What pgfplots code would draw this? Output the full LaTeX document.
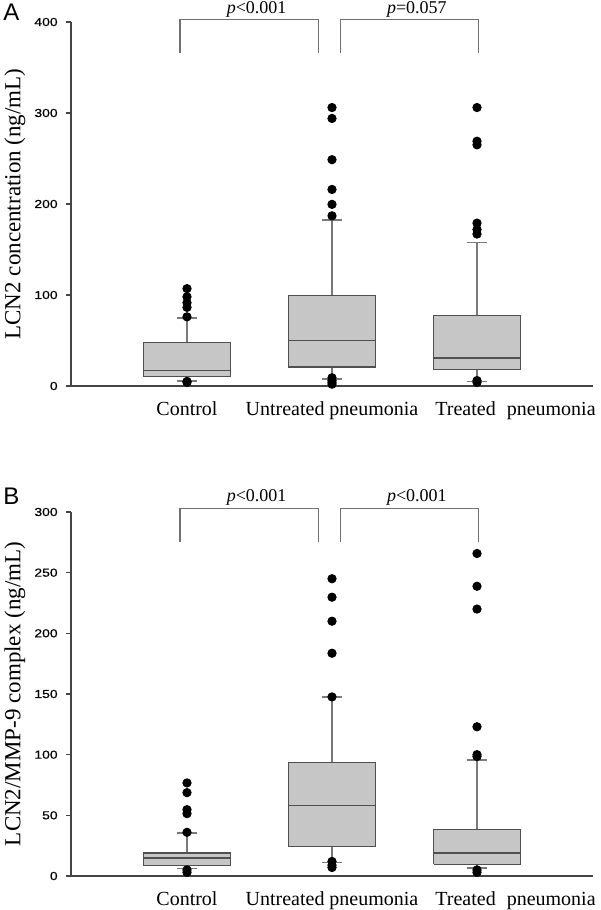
\documentclass[border=0pt]{standalone}
\usepackage{fontspec}
\setmainfont{Liberation Serif}
\setsansfont{Liberation Sans}
\newfontfamily\tickfont[FakeStretch=1.2, FakeBold=0.5]{Liberation Sans}
\usepackage{pgfplots}
\pgfplotsset{compat=1.18}
\definecolor{boxfill}{HTML}{C6C6C6}
\definecolor{boxedge}{HTML}{505050}
\definecolor{whisk}{HTML}{7A7A7A}
\definecolor{axcol}{HTML}{454545}
\definecolor{brk}{HTML}{707070}
\pgfplotsset{
  panel/.style={
    scale only axis, width=261.3pt, height=182pt,
    xmin=0.198, xmax=3.802, ymin=0,
    clip=false,
    axis x line=bottom, axis y line=left,
    axis line style={-, draw=axcol, line width=0.8pt},
    xtick={1,2,3},
    xticklabels={Control, Untreated pneumonia, \hspace*{38.5pt}Treated\hspace{0.55em}pneumonia},
    xtick style={draw=none},
    ytick style={draw=axcol, line width=0.8pt},
    tick align=outside, major tick length=2.5pt,
    /pgf/number format/assume math mode=true,
    yticklabel style={font=\tickfont\fontsize{5.8}{7}\selectfont, xshift=-0.5pt},
    xticklabel style={font=\fontsize{10}{12}\selectfont, yshift=-2pt},
    every axis y label/.style={at={(axis description cs:-0.107,0.5)}, rotate=90, anchor=center, font=\fontsize{11.5}{13}\selectfont},
  },
  bxs/.style={draw=boxedge, fill=boxfill, line width=0.7pt, mark=none},
  wks/.style={draw=whisk, line width=0.7pt, mark=none},
  mds/.style={draw=boxedge, line width=0.7pt, mark=none},
  outl/.style={only marks, mark=*, mark size=2.1pt, mark options={draw=black, fill=black}},
}
\begin{document}
\begin{tikzpicture}
\path[use as bounding box] (0,0) rectangle (300pt,455pt);
% ================= Panel A
\begin{axis}[panel, at={(35.35pt,262pt)}, anchor=south west,
  ymax=400, ytick={0,100,200,300,400},
  ylabel={LCN2 concentration (ng/mL)}]
% Control: lw 5.5, q1 10.6, med 16.8, q3 48, uw 74.7
\addplot[wks] coordinates {(1,48) (1,74.7)};
\addplot[wks] coordinates {(0.93,74.7) (1.07,74.7)};
\addplot[wks] coordinates {(1,10.6) (1,5.5)};
\addplot[wks] coordinates {(0.93,5.5) (1.07,5.5)};
\addplot[bxs] coordinates {(0.7,10.6) (1.3,10.6) (1.3,48) (0.7,48) (0.7,10.6)};
\addplot[mds] coordinates {(0.7,16.8) (1.3,16.8)};
\addplot[outl] coordinates {(1,107) (1,98) (1,91.5) (1,86.4) (1,76) (1,5) (1,4)};
% Untreated: lw 7.7, q1 20.9, med 50.2, q3 99.6, uw 182.4
\addplot[wks] coordinates {(2,99.6) (2,182.4)};
\addplot[wks] coordinates {(1.93,182.4) (2.07,182.4)};
\addplot[wks] coordinates {(2,20.9) (2,7.7)};
\addplot[wks] coordinates {(1.93,7.7) (2.07,7.7)};
\addplot[bxs] coordinates {(1.7,20.9) (2.3,20.9) (2.3,99.6) (1.7,99.6) (1.7,20.9)};
\addplot[mds] coordinates {(1.7,50.2) (2.3,50.2)};
\addplot[outl] coordinates {(2,306) (2,294) (2,248.7) (2,216) (2,199.6) (2,187) (2,9) (2,6) (2,4) (2,2)};
% Treated: lw 4.8, q1 18, med 30.8, q3 77.3, uw 157.5
\addplot[wks] coordinates {(3,77.3) (3,157.5)};
\addplot[wks] coordinates {(2.93,157.5) (3.07,157.5)};
\addplot[wks] coordinates {(3,18) (3,4.8)};
\addplot[wks] coordinates {(2.93,4.8) (3.07,4.8)};
\addplot[bxs] coordinates {(2.7,18) (3.3,18) (3.3,77.3) (2.7,77.3) (2.7,18)};
\addplot[mds] coordinates {(2.7,30.8) (3.3,30.8)};
\addplot[outl] coordinates {(3,306) (3,269) (3,265) (3,179) (3,172) (3,167) (3,6) (3,4)};
% brackets
\draw[brk, line width=0.6pt] (axis cs:0.952,366) -- (axis cs:0.952,403) -- (axis cs:1.909,403) -- (axis cs:1.909,366);
\draw[brk, line width=0.6pt] (axis cs:2.057,366) -- (axis cs:2.057,403) -- (axis cs:3.013,403) -- (axis cs:3.013,366);
\node[anchor=base, font=\fontsize{9}{10}\selectfont] at (axis cs:1.48,409.8) {\textit{p}<0.001};
\node[anchor=base, font=\fontsize{9}{10}\selectfont] at (axis cs:2.585,409.8) {\textit{p}=0.057};
\end{axis}
% ================= Panel B
\begin{axis}[panel, at={(35.35pt,17pt)}, anchor=south west,
  ymax=300, ytick={0,50,100,150,200,250,300},
  ylabel={LCN2/MMP-9 complex (ng/mL)}]
% Control: lw 6.1, q1 8.8, med 14.8, q3 19, uw 35.4
\addplot[wks] coordinates {(1,19) (1,35.4)};
\addplot[wks] coordinates {(0.93,35.4) (1.07,35.4)};
\addplot[wks] coordinates {(1,8.8) (1,6.1)};
\addplot[wks] coordinates {(0.93,6.1) (1.07,6.1)};
\addplot[bxs] coordinates {(0.7,8.8) (1.3,8.8) (1.3,19) (0.7,19) (0.7,8.8)};
\addplot[mds] coordinates {(0.7,14.8) (1.3,14.8)};
\addplot[outl] coordinates {(1,76.7) (1,68.7) (1,54.7) (1,51.4) (1,36) (1,5) (1,3)};
% Untreated: lw 11, q1 24.2, med 58, q3 93.5, uw 147.6
\addplot[wks] coordinates {(2,93.5) (2,147.6)};
\addplot[wks] coordinates {(1.93,147.6) (2.07,147.6)};
\addplot[wks] coordinates {(2,24.2) (2,11)};
\addplot[wks] coordinates {(1.93,11) (2.07,11)};
\addplot[bxs] coordinates {(1.7,24.2) (2.3,24.2) (2.3,93.5) (1.7,93.5) (1.7,24.2)};
\addplot[mds] coordinates {(1.7,58) (2.3,58)};
\addplot[outl] coordinates {(2,245) (2,229.8) (2,210) (2,183.6) (2,147.6) (2,12) (2,9) (2,7)};
% Treated: lw 6.6, q1 9.6, med 19, q3 38.5, uw 95.6
\addplot[wks] coordinates {(3,38.5) (3,95.6)};
\addplot[wks] coordinates {(2.93,95.6) (3.07,95.6)};
\addplot[wks] coordinates {(3,9.6) (3,6.6)};
\addplot[wks] coordinates {(2.93,6.6) (3.07,6.6)};
\addplot[bxs] coordinates {(2.7,9.6) (3.3,9.6) (3.3,38.5) (2.7,38.5) (2.7,9.6)};
\addplot[mds] coordinates {(2.7,19) (3.3,19)};
\addplot[outl] coordinates {(3,265.8) (3,238.8) (3,220) (3,123) (3,100) (3,98.5) (3,5) (3,3)};
% brackets
\draw[brk, line width=0.6pt] (axis cs:0.952,275.6) -- (axis cs:0.952,303) -- (axis cs:1.909,303) -- (axis cs:1.909,275.6);
\draw[brk, line width=0.6pt] (axis cs:2.057,275.6) -- (axis cs:2.057,303) -- (axis cs:3.013,303) -- (axis cs:3.013,275.6);
\node[anchor=base, font=\fontsize{9}{10}\selectfont] at (axis cs:1.48,308.6) {\textit{p}<0.001};
\node[anchor=base, font=\fontsize{9}{10}\selectfont] at (axis cs:2.585,308.6) {\textit{p}<0.001};
\end{axis}
\node[font=\sffamily\fontsize{12}{14}\selectfont] at (5.75pt,448.75pt) {A};
\node[font=\sffamily\fontsize{12}{14}\selectfont] at (5.75pt,207pt) {B};
\end{tikzpicture}
\end{document}
